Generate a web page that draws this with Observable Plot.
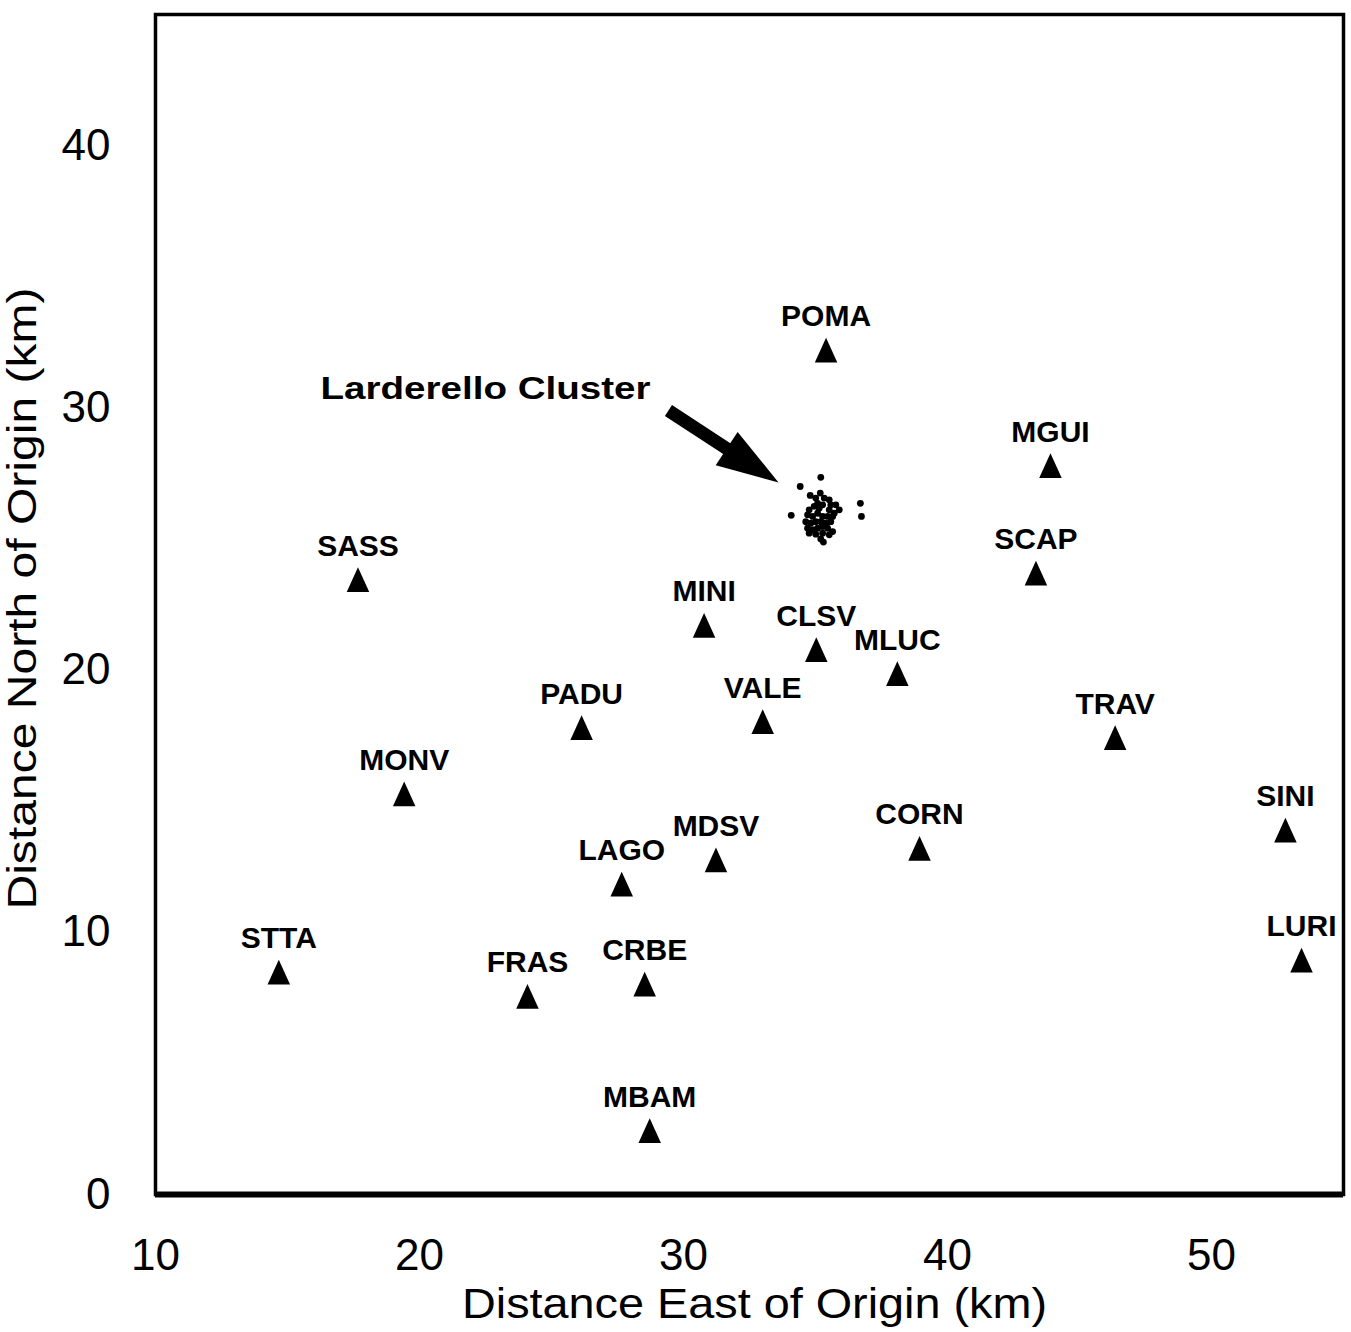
<!DOCTYPE html>
<html>
<head>
<meta charset="utf-8">
<script src="https://cdn.jsdelivr.net/npm/d3@7"></script>
<script src="https://cdn.jsdelivr.net/npm/@observablehq/plot@0.6"></script>
<style>
  html, body { margin: 0; padding: 0; background: white; }
  #chart svg { display: block; }
</style>
</head>
<body>
<div id="chart"></div>
<script>
// ---- Data ----
const stationNames = ["POMA","MGUI","SCAP","SASS","MINI","CLSV","MLUC","PADU","VALE","TRAV","MONV","SINI","CORN","MDSV","LAGO","STTA","LURI","FRAS","CRBE","MBAM"];
const stationEast  = [35.4, 43.9, 43.35, 17.67, 30.78, 35.03, 38.1, 26.14, 33.0, 46.35, 19.42, 52.8, 38.94, 31.23, 27.66, 14.67, 53.41, 24.09, 28.53, 28.72];
const stationNorth = [32.2, 27.8, 23.7, 23.45, 21.7, 20.78, 19.86, 17.8, 18.03, 17.42, 15.28, 13.9, 13.2, 12.76, 11.84, 8.48, 8.94, 7.56, 8.02, 2.44];

const clusterEast  = [35.18,35.01,35.33,35.52,35.08,35.27,35.58,35.77,35.90,35.71,35.52,35.14,34.95,34.76,34.70,34.89,35.08,35.27,35.46,35.65,34.63,34.82,35.01,35.20,35.39,35.58,34.70,34.89,35.08,35.27,35.46,35.65,34.76,35.01,35.27,35.52,35.20,35.30,34.42,35.20,34.08,36.70,36.74,34.80];
const clusterNorth = [26.75,26.56,26.56,26.49,26.36,26.30,26.30,26.30,26.11,25.98,26.11,26.17,26.24,26.11,25.92,25.86,25.98,25.86,25.86,25.86,25.66,25.60,25.66,25.66,25.60,25.66,25.41,25.35,25.41,25.47,25.41,25.28,25.22,25.18,25.22,25.16,25.00,24.88,27.00,27.35,25.90,26.36,25.86,26.66];

const xTicks = [10, 20, 30, 40, 50];
const yTicks = [0, 10, 20, 30, 40];
const xTitle = "Distance East of Origin (km)";
const yTitle = "Distance North of Origin (km)";
const clusterLabel = "Larderello Cluster";
const clusterLabelPos = [{x: 16.25, y: 30.35}];
const arrowData = [{x1: 29.43, y1: 29.9, x2: 33.6, y2: 27.15}];

// ---- Build tables ----
const stations = stationNames.map((name, i) => ({name, x: stationEast[i], y: stationNorth[i]}));
const cluster = clusterEast.map((x, i) => ({x, y: clusterNorth[i]}));

// Isosceles station triangle (slightly taller than wide), centred on its box
const stationTriangle = {
  draw(context, size) {
    const w = Math.sqrt(size / Math.PI) * 2.5;
    const h = w * 1.1;
    context.moveTo(0, -h / 2);
    context.lineTo(w / 2, h / 2);
    context.lineTo(-w / 2, h / 2);
    context.closePath();
  }
};

// Filled arrow head pointing along the arrow direction, tip at origin
const ang = Math.atan2(72, 110);
const arrowHead = {
  draw(context) {
    const L = 62, W = 20;
    const ux = Math.cos(ang), uy = Math.sin(ang);
    const nx = -uy, ny = ux;
    context.moveTo(0, 0);
    context.lineTo(-L * ux + W * nx, -L * uy + W * ny);
    context.lineTo(-L * ux - W * nx, -L * uy - W * ny);
    context.closePath();
  }
};

const font = "'Liberation Sans', Arial, Helvetica, sans-serif";

const svg = Plot.plot({
  width: 1351,
  height: 1332,
  marginLeft: 155,
  marginRight: 8,
  marginTop: 14,
  marginBottom: 138,
  style: {fontFamily: font, fontSize: "44px", background: "white", color: "black"},
  x: {domain: [10, 55], ticks: xTicks, tickSize: 0, tickPadding: 44, label: null, tickFormat: d => String(d)},
  y: {domain: [0, 45], ticks: yTicks, tickSize: 0, tickPadding: 45, label: null, tickFormat: d => String(d)},
  marks: [
    Plot.frame({stroke: "black", strokeWidth: 3.5}),
    Plot.ruleY([0], {stroke: "black", strokeWidth: 6}),
    Plot.dot(cluster, {x: "x", y: "y", r: 3.4, fill: "black", stroke: "none"}),
    Plot.dot(stations, {x: "x", y: "y", r: 9, symbol: stationTriangle, fill: "black", stroke: "none"}),
    Plot.text(stations, {x: "x", y: "y", text: "name", fontSize: 30, fontWeight: "bold", lineAnchor: "bottom", dy: -24, fill: "black"}),
    Plot.text(clusterLabelPos, {x: "x", y: "y", text: () => clusterLabel, fontSize: 32, fontWeight: "bold", textAnchor: "start", lineAnchor: "bottom", fill: "black"}),
    Plot.arrow(arrowData, {x1: "x1", y1: "y1", x2: "x2", y2: "y2", stroke: "black", strokeWidth: 13, headLength: 0, insetEnd: 50, strokeLinecap: "butt"}),
    Plot.dot(arrowData, {x: "x2", y: "y2", r: 10, symbol: arrowHead, fill: "black", stroke: "none"}),
    Plot.text([xTitle], {frameAnchor: "bottom", text: d => d, textAnchor: "middle", dy: 123, dx: 5, lineAnchor: "bottom", fontSize: 42, fill: "black"}),
    Plot.text([yTitle], {frameAnchor: "left", text: d => d, textAnchor: "middle", rotate: -90, dx: -132, dy: -6, lineAnchor: "middle", fontSize: 40, fill: "black"})
  ]
});

document.getElementById("chart").appendChild(svg);

// Stretch the wide scanned lettering to the reference widths
const widths = {[xTitle]: 585, [yTitle]: 622, [clusterLabel]: 330};
d3.select(svg).selectAll("text").each(function () {
  const t = this.textContent;
  if (widths[t]) {
    this.setAttribute("textLength", widths[t]);
    this.setAttribute("lengthAdjust", "spacingAndGlyphs");
  }
});
</script>
</body>
</html>
